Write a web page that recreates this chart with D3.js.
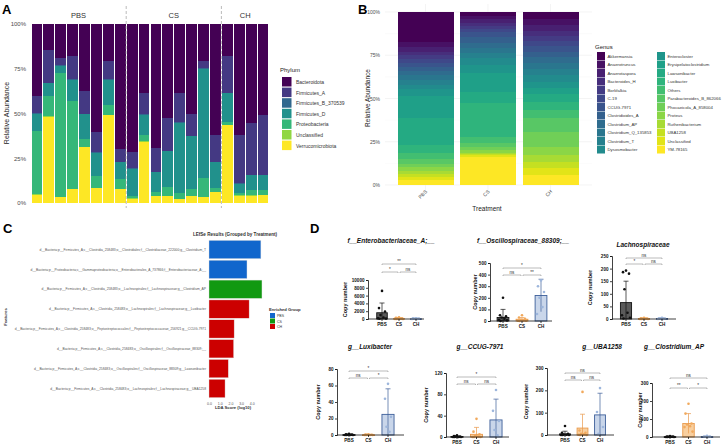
<!DOCTYPE html>
<html>
<head>
<meta charset="utf-8">
<script src="https://cdn.jsdelivr.net/npm/d3@7"></script>
<style>
body { margin: 0; background: #fff; }
text { font-family: "Liberation Sans", Arial, sans-serif; }
</style>
</head>
<body>
<div id="fig"></div>
<script>
// ---------- Panel A: phylum relative abundance per sample ----------
var samples = ["PBS1","PBS2","PBS3","PBS4","PBS5","PBS6","PBS7","PBS8",
               "CS1","CS2","CS3","CS4","CS5","CS6","CS7","CS8",
               "CH1","CH2","CH3","CH4"];
var phyla = ["Bacteroidota","Firmicutes_A","Firmicutes_B_370539","Firmicutes_D",
             "Proteobacteria","Unclassified","Verrucomicrobiota"];
var bacteroidota   = [40.2,14.4,18.7,17.8,37.2,60.4,20.6,70.1, 71.6,38.7,69.2,52.5,38.3,50.5,20.6,62.2, 17.8,62.1,55.5,51.0];
var firmicutesA    = [9.8,18.3,4.3,13.0,13.1,11.4,10.2,7.1, 9.1,11.8,13.4,18.5,16.7,11.9,4.1,14.8, 20.5,27.1,28.8,33.4];
var firmicutesB    = [0.3,0.2,0.1,0.3,0.2,0.2,0.3,0.2, 0.2,0.3,0.2,0.3,0.4,0.3,0.2,0.3, 0.3,0.2,0.3,0.2];
var firmicutesD    = [9.3,7.5,4.1,12.2,14.0,13.2,13.9,9.2, 15.2,11.2,11.4,19.7,39.4,29.4,61.1,14.6, 16.1,5.2,8.6,8.3];
var proteobacteria = [35.8,11.2,69.2,49.0,4.3,6.4,5.6,5.6, 1.5,3.7,1.9,5.2,3.4,4.1,10.8,2.0, 1.7,1.3,2.8,2.8];
var unclassifiedA  = [0.1,0.1,0.1,0.1,0.1,0.1,0.1,0.1, 0.1,0.1,0.1,0.1,0.1,0.1,0.1,0.1, 0.1,0.1,0.1,0.1];
var verrucomicrob  = [4.9,48.6,3.7,8.0,31.4,8.6,49.7,8.0, 2.6,34.6,4.1,4.1,2.2,4.1,3.4,6.4, 43.9,4.3,4.3,4.5];
var sampleGroups = ["PBS","CS","CH"];
var groupSizes = [8, 8, 4];

// ---------- Panel B: genus relative abundance per treatment ----------
var treatments = ["PBS","CS","CH"];
var genera = ["Akkermansia","Anaerotruncus","Anaerotaspora","Bacteroides_H","Borkfalkia","C-19",
              "CCUG-7971","Clostridioides_A","Clostridium_AP","Clostridium_Q_135853","Clostridium_T","Dysosmobacter",
              "Enterocloster","Erysipelatoclostridium","Lawsonibacter","Luxibacter","Others","Parabacteroides_B_862066",
              "Phocaeicola_A_858004","Proteus","Ruthenibacterium","UBA1258","Unclassified","YM-78165"];
var genusPBS = [17.3,2.5,2.9,1.9,2.5,2.3,1.9,2.3,2.5,2.9,2.9,2.3,4.0,12.9,15.4,4.8,2.9,2.9,1.9,2.3,1.9,1.9,1.5,3.1];
var genusCS  = [2.1,1.9,1.9,1.9,1.9,1.9,2.7,3.5,2.9,2.9,2.9,3.9,4.4,11.0,6.7,19.3,3.9,1.9,1.9,1.5,0.8,0.8,0.8,16.6];
var genusCH  = [4.0,3.3,3.3,3.1,2.7,2.9,3.5,3.3,3.5,3.5,3.3,3.9,3.3,3.9,4.4,4.8,4.8,7.7,8.7,4.8,3.9,3.9,3.9,6.0];

// ---------- Panel C: LEfSe ----------
var features = [
  "d__Bacteria;p__Firmicutes_A;c__Clostridia_258483;o__Clostridiales;f__Clostridiaceae_222000;g__Clostridium_T",
  "d__Bacteria;p__Proteobacteria;c__Gammaproteobacteria;o__Enterobacterales_A_737866;f__Enterobacteriaceae_A;__",
  "d__Bacteria;p__Firmicutes_A;c__Clostridia_258483;o__Lachnospirales;f__Lachnospiraceae;g__Clostridium_AP",
  "d__Bacteria;p__Firmicutes_A;c__Clostridia_258483;o__Lachnospirales;f__Lachnospiraceae;g__Luxibacter",
  "d__Bacteria;p__Firmicutes_A;c__Clostridia_258483;o__Peptostreptococcales;f__Peptostreptococcaceae_256921;g__CCUG-7971",
  "d__Bacteria;p__Firmicutes_A;c__Clostridia_258483;o__Oscillospirales;f__Oscillospiraceae_88309;__",
  "d__Bacteria;p__Firmicutes_A;c__Clostridia_258483;o__Oscillospirales;f__Oscillospiraceae_88309;g__Lawsonibacter",
  "d__Bacteria;p__Firmicutes_A;c__Clostridia_258483;o__Lachnospirales;f__Lachnospiraceae;g__UBA1258"
];
var ldaScores = [4.85, 3.55, 4.95, 3.75, 2.35, 2.3, 1.8, 1.5];
var ldaGroups = ["PBS","PBS","CS","CH","CH","CH","CH","CH"];
var ldaTicks = [0, 1, 2, 3, 4];

// ---------- Panel D: copy numbers ----------
var dGroups = ["PBS","CS","CH"];
var enteroMean = [1600, 150, 80];
var enteroSd   = [2500, 200, 100];
var enteroPBS  = [7200, 2800, 1900, 1000, 400, 200, 100, 50];
var enteroCS   = [450, 300, 200, 100, 50, 20, 10, 0];
var enteroCH   = [200, 150, 100, 50, 20, 10];
var enteroSig  = ["**", "*", "ns"];

var osciMean = [30, 15, 220];
var osciSd   = [70, 15, 140];
var osciPBS  = [200, 50, 40, 30, 20, 10, 5, 0];
var osciCS   = [50, 30, 20, 10, 5, 3, 2, 0];
var osciCH   = [350, 300, 250, 200, 120, 60];
var osciSig  = ["*", "ns", "**"];

var lachnoMean = [65, 2, 2];
var lachnoSd   = [85, 2, 2];
var lachnoPBS  = [192, 186, 180, 118, 25, 15, 5, 2];
var lachnoCS   = [5, 3, 2, 1, 1, 0, 0, 0];
var lachnoCH   = [5, 3, 2, 1, 0, 0];
var lachnoSig  = ["ns", "*", "ns"];

var luxiMean = [0.5, 0.3, 25];
var luxiSd   = [0.5, 0.3, 31];
var luxiPBS  = [1.5, 1, 0.5, 0.3, 0.2, 0, 0, 0];
var luxiCS   = [1, 0.5, 0.3, 0.2, 0, 0, 0, 0];
var luxiCH   = [62, 44, 22, 10, 4];
var luxiSig  = ["*", "ns", "*"];

var ccugMean = [1, 5, 32];
var ccugSd   = [1, 13, 39];
var ccugPBS  = [3, 2, 1, 1, 0, 0, 0, 0];
var ccugCS   = [34, 10, 5, 2, 1, 0, 0, 0];
var ccugCH   = [88, 49, 30, 13, 3];
var ccugSig  = ["*", "ns", "ns"];

var ubaMean = [5, 31, 90];
var ubaSd   = [12, 62, 97];
var ubaPBS  = [40, 10, 5, 2, 1, 0, 0, 0];
var ubaCS   = [193, 20, 10, 5, 3, 1, 0, 0];
var ubaCH   = [210, 103, 36, 5];
var ubaSig  = ["ns", "ns", "ns"];

var clostMean = [2, 75, 2];
var clostSd   = [2, 55, 2];
var clostPBS  = [5, 3, 2, 1, 1, 0, 0, 0];
var clostCS   = [185, 130, 75, 70, 60, 55, 30];
var clostCH   = [6, 3, 2, 1, 0];
var clostSig  = ["ns", "**", "*"];

// ================= drawing =================
var W = 723, H = 446;
var svg = d3.select("#fig").append("svg")
    .attr("width", W).attr("height", H)
    .style("background", "#fff");

function panelLabel(t, x, y) {
  svg.append("text").attr("x", x).attr("y", y)
     .attr("font-size", "13px").attr("font-weight", "bold").text(t);
}

/* ---------- Panel A ---------- */
panelLabel("A", 2, 14);
var phylumValues = {
  "Bacteroidota": bacteroidota, "Firmicutes_A": firmicutesA, "Firmicutes_B_370539": firmicutesB,
  "Firmicutes_D": firmicutesD, "Proteobacteria": proteobacteria, "Unclassified": unclassifiedA,
  "Verrucomicrobiota": verrucomicrob
};
var phylumColor = d3.scaleOrdinal().domain(phyla)
    .range(phyla.map(function(d, i) { return d3.interpolateViridis(i / (phyla.length - 1)); }));

var rowsA = samples.map(function(s, i) {
  var r = { sample: s };
  phyla.forEach(function(p) { r[p] = phylumValues[p][i]; });
  return r;
});
var stackA = d3.stack().keys(phyla.slice().reverse()).offset(d3.stackOffsetExpand)(rowsA);

var xA = d3.scaleBand().domain(samples).range([31, 269]).paddingInner(0.1).paddingOuter(0.05);
var yA = d3.scaleLinear().domain([0, 1]).range([203, 24]);

var gA = svg.append("g");
gA.selectAll("g.layer").data(stackA).enter().append("g")
  .attr("fill", function(d) { return phylumColor(d.key); })
  .selectAll("rect").data(function(d) { return d; }).enter().append("rect")
  .attr("x", function(d) { return xA(d.data.sample); })
  .attr("y", function(d) { return yA(d[1]); })
  .attr("width", xA.bandwidth())
  .attr("height", function(d) { return yA(d[0]) - yA(d[1]) + 0.3; })
  .attr("shape-rendering", "crispEdges");

var yAxisA = gA.append("g").attr("transform", "translate(29,0)")
  .call(d3.axisLeft(yA).tickValues([0, .25, .5, .75, 1]).tickFormat(d3.format(".0%")).tickSize(0));
yAxisA.select(".domain").remove();
yAxisA.selectAll("text").attr("font-size", "6px").attr("fill", "#4d4d4d")
  .style("font-family", "'Liberation Sans', Arial, sans-serif");

gA.append("text").attr("transform", "rotate(-90)").attr("x", -113).attr("y", 9)
  .attr("text-anchor", "middle").attr("font-size", "7px").attr("fill", "#222").text("Relative Abundance");

// group strips and dashed separators
var startIdx = 0;
sampleGroups.forEach(function(g, gi) {
  var first = samples[startIdx], last = samples[startIdx + groupSizes[gi] - 1];
  var x0 = xA(first), x1 = xA(last) + xA.bandwidth();
  gA.append("text").attr("x", (x0 + x1) / 2).attr("y", 18).attr("text-anchor", "middle")
    .attr("font-size", "7.5px").attr("fill", "#333").text(g);
  if (gi > 0) {
    gA.append("line").attr("x1", x0 - xA.step() * 0.05).attr("x2", x0 - xA.step() * 0.05)
      .attr("y1", 6).attr("y2", 208).attr("stroke", "#aaa").attr("stroke-width", 0.8)
      .attr("stroke-dasharray", "3,2");
  }
  startIdx += groupSizes[gi];
});

// legend A
var legA = svg.append("g").attr("transform", "translate(282,72)");
legA.append("text").attr("x", -2).attr("y", 0).attr("font-size", "6px").attr("fill", "#222").text("Phylum");
phyla.forEach(function(p, i) {
  legA.append("rect").attr("x", 0).attr("y", 5 + i * 10.6).attr("width", 9.5).attr("height", 9.5)
    .attr("fill", phylumColor(p));
  legA.append("text").attr("x", 14).attr("y", 12 + i * 10.6).attr("font-size", "5px")
    .attr("fill", "#333").text(p);
});

/* ---------- Panel B ---------- */
panelLabel("B", 358, 14);
var genusValues = { "PBS": genusPBS, "CS": genusCS, "CH": genusCH };
var genusColor = d3.scaleOrdinal().domain(genera)
    .range(genera.map(function(d, i) { return d3.interpolateViridis(i / (genera.length - 1)); }));
var rowsB = treatments.map(function(t) {
  var r = { treatment: t };
  genera.forEach(function(g, i) { r[g] = genusValues[t][i]; });
  return r;
});
var stackB = d3.stack().keys(genera.slice().reverse()).offset(d3.stackOffsetExpand)(rowsB);

var xB = d3.scaleBand().domain(treatments).range([391, 585]).paddingInner(0.104).paddingOuter(0.104);
var yB = d3.scaleLinear().domain([0, 1]).range([185, 12]);
var gB = svg.append("g");

// grid
[0, .25, .5, .75, 1].forEach(function(v) {
  gB.append("line").attr("x1", 385).attr("x2", 592).attr("y1", yB(v)).attr("y2", yB(v))
    .attr("stroke", "#ececec").attr("stroke-width", 0.6);
});
[.125, .375, .625, .875].forEach(function(v) {
  gB.append("line").attr("x1", 385).attr("x2", 592).attr("y1", yB(v)).attr("y2", yB(v))
    .attr("stroke", "#f5f5f5").attr("stroke-width", 0.4);
});
treatments.forEach(function(t) {
  var cx = xB(t) + xB.bandwidth() / 2;
  gB.append("line").attr("x1", cx).attr("x2", cx).attr("y1", 4).attr("y2", 192)
    .attr("stroke", "#ececec").attr("stroke-width", 0.6);
});

gB.selectAll("g.layer").data(stackB).enter().append("g")
  .attr("fill", function(d) { return genusColor(d.key); })
  .selectAll("rect").data(function(d) { return d; }).enter().append("rect")
  .attr("x", function(d) { return xB(d.data.treatment); })
  .attr("y", function(d) { return yB(d[1]); })
  .attr("width", xB.bandwidth())
  .attr("height", function(d) { return yB(d[0]) - yB(d[1]) + 0.4; })
  .attr("shape-rendering", "crispEdges");

var yAxisB = gB.append("g").attr("transform", "translate(383,0)")
  .call(d3.axisLeft(yB).tickValues([0, .25, .5, .75, 1]).tickFormat(d3.format(".0%")).tickSize(0));
yAxisB.select(".domain").remove();
yAxisB.selectAll("text").attr("font-size", "5px").attr("fill", "#4d4d4d")
  .style("font-family", "'Liberation Sans', Arial, sans-serif");

treatments.forEach(function(t) {
  var cx = xB(t) + xB.bandwidth() / 2;
  gB.append("text").attr("transform", "translate(" + (cx + 2) + ",192) rotate(-45)")
    .attr("text-anchor", "end").attr("font-size", "5px").attr("fill", "#4d4d4d").text(t);
});
gB.append("text").attr("x", 487).attr("y", 211).attr("text-anchor", "middle")
  .attr("font-size", "6.5px").attr("fill", "#222").text("Treatment");
gB.append("text").attr("transform", "rotate(-90)").attr("x", -98).attr("y", 370)
  .attr("text-anchor", "middle").attr("font-size", "6.5px").attr("fill", "#222").text("Relative Abundance");

// legend B
var legB = svg.append("g");
legB.append("text").attr("x", 595).attr("y", 49).attr("font-size", "6px").attr("fill", "#222").text("Genus");
genera.forEach(function(g, i) {
  var col = Math.floor(i / 12), row = i % 12;
  var lx = col === 0 ? 597 : 657;
  var ly = 52 + row * 8.5;
  legB.append("rect").attr("x", lx).attr("y", ly).attr("width", 8).attr("height", 8)
    .attr("fill", genusColor(g));
  legB.append("text").attr("x", lx + 10.5).attr("y", ly + 5.8).attr("font-size", "4.3px")
    .attr("fill", "#333").text(g);
});

/* ---------- Panel C ---------- */
panelLabel("C", 3, 233);
var groupColor = d3.scaleOrdinal().domain(["PBS", "CS", "CH"]).range(["#1166cc", "#119911", "#cc0000"]);
var xC = d3.scaleLinear().domain([0, 5]).range([209, 262.5]);
var yC = d3.scaleBand().domain(features).range([240, 398]).paddingInner(0.08).paddingOuter(0.02);
var gC = svg.append("g");
gC.append("text").attr("x", 235).attr("y", 236).attr("text-anchor", "middle")
  .attr("font-size", "4.6px").attr("font-weight", "bold").attr("fill", "#333")
  .text("LEfSe Results (Grouped by Treatment)");
gC.selectAll("rect.lda").data(features).enter().append("rect")
  .attr("x", xC(0)).attr("y", function(d) { return yC(d); })
  .attr("width", function(d, i) { return xC(ldaScores[i]) - xC(0); })
  .attr("height", yC.bandwidth())
  .attr("fill", function(d, i) { return groupColor(ldaGroups[i]); })
  .attr("stroke", "#ddd").attr("stroke-width", 0.4);
gC.selectAll("text.feat").data(features).enter().append("text")
  .attr("x", 206).attr("y", function(d) { return yC(d) + yC.bandwidth() / 2 + 1.2; })
  .attr("text-anchor", "end").attr("font-size", "3.3px").attr("fill", "#555")
  .text(function(d) { return d; });
var xAxisC = gC.append("g").attr("transform", "translate(0,400)")
  .call(d3.axisBottom(xC).tickValues(ldaTicks).tickSize(0).tickFormat(d3.format(".1f")));
xAxisC.select(".domain").remove();
xAxisC.selectAll("text").attr("font-size", "3.5px").attr("fill", "#555")
  .style("font-family", "'Liberation Sans', Arial, sans-serif");
gC.append("text").attr("x", 233).attr("y", 409).attr("text-anchor", "middle")
  .attr("font-size", "4.2px").attr("font-weight", "bold").attr("fill", "#333").text("LDA Score (log10)");
gC.append("text").attr("transform", "rotate(-90)").attr("x", -317).attr("y", 7)
  .attr("text-anchor", "middle").attr("font-size", "4.2px").attr("font-weight", "bold").attr("fill", "#333")
  .text("Features");
gC.append("text").attr("x", 269).attr("y", 311).attr("font-size", "4.2px").attr("font-weight", "bold")
  .attr("fill", "#333").text("Enriched Group");
["PBS", "CS", "CH"].forEach(function(g, i) {
  gC.append("rect").attr("x", 270).attr("y", 313 + i * 5.5).attr("width", 5).attr("height", 5)
    .attr("fill", groupColor(g));
  gC.append("text").attr("x", 277).attr("y", 317 + i * 5.5).attr("font-size", "3.5px")
    .attr("fill", "#333").text(g);
});

/* ---------- Panel D ---------- */
panelLabel("D", 310, 233);
var fills = { PBS: "#5a5a5a", CS: "#f8cf9f", CH: "#c9d6ea" };
var edges = { PBS: "#111", CS: "#e99a4c", CH: "#3d5f9a" };
var dots  = { PBS: "#111", CS: "#f1a95c", CH: "#9db6dc" };

var dPlots = [
  { title: "f__Enterobacteriaceae_A;__", tx: 391, ty: 243, ax: 368, c0: 382, step: 17, end: 424,
    base: 319, top: 280, max: 10000, tickStep: 2000, mean: enteroMean, sd: enteroSd,
    pts: [enteroPBS, enteroCS, enteroCH], sig: enteroSig, br: [264, 272], lx: 347 },
  { title: "f__Oscillospiraceae_88309;__", tx: 523, ty: 243, ax: 490, c0: 503, step: 19, end: 552,
    base: 321, top: 263, max: 500, tickStep: 100, mean: osciMean, sd: osciSd,
    pts: [osciPBS, osciCS, osciCH], sig: osciSig, br: [268, 275], lx: 477 },
  { title: "Lachnospiraceae", tx: 643, ty: 247, ax: 612, c0: 626, step: 18, end: 676,
    base: 319, top: 256, max: 250, tickStep: 50, mean: lachnoMean, sd: lachnoSd,
    pts: [lachnoPBS, lachnoCS, lachnoCH], sig: lachnoSig, br: [258, 264], lx: 592 },
  { title: "g__Luxibacter", tx: 370, ty: 349, ax: 337, c0: 349, step: 19.5, end: 404,
    base: 435, top: 369, max: 80, tickStep: 20, mean: luxiMean, sd: luxiSd,
    pts: [luxiPBS, luxiCS, luxiCH], sig: luxiSig, br: [371, 378], lx: 320 },
  { title: "g__CCUG-7971", tx: 480, ty: 349, ax: 446, c0: 457, step: 19.5, end: 509,
    base: 437, top: 373, max: 120, tickStep: 40, mean: ccugMean, sd: ccugSd,
    pts: [ccugPBS, ccugCS, ccugCH], sig: ccugSig, br: [377, 384], lx: 428 },
  { title: "g__UBA1258", tx: 602, ty: 349, ax: 547, c0: 565, step: 17.5, end: 614,
    base: 435, top: 368, max: 300, tickStep: 100, mean: ubaMean, sd: ubaSd,
    pts: [ubaPBS, ubaCS, ubaCH], sig: ubaSig, br: [373, 380], lx: 528 },
  { title: "g__Clostridium_AP", tx: 674, ty: 349, ax: 652, c0: 670, step: 18.5, end: 720,
    base: 437, top: 383, max: 300, tickStep: 100, mean: clostMean, sd: clostSd,
    pts: [clostPBS, clostCS, clostCH], sig: clostSig, br: [378, 388], lx: 642 }
];

// fixed horizontal spread for the scatter dots (layout only)
var spread = [0, -3, 3, -1.5, 1.5, -4, 4, -2.5];

dPlots.forEach(function(p) {
  var g = svg.append("g");
  var y = d3.scaleLinear().domain([0, p.max]).range([p.base, p.top]);
  var x = d3.scalePoint().domain(dGroups).range([p.c0, p.c0 + 2 * p.step]);
  var bw = p.step * 0.62;

  g.append("text").attr("x", p.tx).attr("y", p.ty).attr("text-anchor", "middle")
    .attr("font-size", "6.5px").attr("font-weight", "bold").attr("font-style", "italic")
    .attr("fill", "#111").text(p.title);

  // bars
  dGroups.forEach(function(grp, i) {
    var m = p.mean[i], s = p.sd[i];
    var top = y(m);
    g.append("rect").attr("x", x(grp) - bw / 2).attr("y", top)
      .attr("width", bw).attr("height", Math.max(0.8, p.base - top))
      .attr("fill", fills[grp]).attr("stroke", edges[grp]).attr("stroke-width", 0.9);
    // error bar
    var lo = y(Math.max(0, m - s)), hi = y(m + s);
    g.append("line").attr("x1", x(grp)).attr("x2", x(grp)).attr("y1", lo).attr("y2", hi)
      .attr("stroke", edges[grp]).attr("stroke-width", 0.7);
    g.append("line").attr("x1", x(grp) - 2.5).attr("x2", x(grp) + 2.5).attr("y1", hi).attr("y2", hi)
      .attr("stroke", edges[grp]).attr("stroke-width", 0.7);
    // points
    p.pts[i].forEach(function(v, k) {
      g.append("circle").attr("cx", x(grp) + spread[k % spread.length]).attr("cy", y(v))
        .attr("r", 1.3).attr("fill", dots[grp]);
    });
  });

  // axes
  var ticks = d3.range(0, p.max + 0.001, p.tickStep);
  var yAx = g.append("g").attr("transform", "translate(" + p.ax + ",0)")
    .call(d3.axisLeft(y).tickValues(ticks).tickSize(2).tickPadding(1.5).tickFormat(d3.format("d")));
  yAx.select(".domain").attr("stroke", "#111").attr("stroke-width", 0.8);
  yAx.selectAll(".tick line").attr("stroke", "#111").attr("stroke-width", 0.8);
  yAx.selectAll("text").attr("font-size", "4.6px").attr("font-weight", "bold").attr("fill", "#111")
    .style("font-family", "'Liberation Sans', Arial, sans-serif");
  g.append("line").attr("x1", p.ax).attr("x2", p.end).attr("y1", p.base).attr("y2", p.base)
    .attr("stroke", "#111").attr("stroke-width", 0.8);
  dGroups.forEach(function(grp) {
    g.append("line").attr("x1", x(grp)).attr("x2", x(grp)).attr("y1", p.base).attr("y2", p.base + 2)
      .attr("stroke", "#111").attr("stroke-width", 0.8);
    g.append("text").attr("x", x(grp)).attr("y", p.base + 7).attr("text-anchor", "middle")
      .attr("font-size", "4.6px").attr("font-weight", "bold").attr("fill", "#111").text(grp);
  });
  g.append("text").attr("transform", "rotate(-90)").attr("x", -(p.base + p.top) / 2).attr("y", p.lx)
    .attr("text-anchor", "middle").attr("font-size", "5.5px").attr("font-weight", "bold")
    .attr("fill", "#111").text("Copy number");

  // significance brackets
  function bracket(a, b, yy, label) {
    g.append("path").attr("d", "M" + a + "," + (yy + 1) + "V" + yy + "H" + b + "V" + (yy + 1))
      .attr("fill", "none").attr("stroke", "#777").attr("stroke-width", 0.5);
    g.append("text").attr("x", (a + b) / 2).attr("y", yy - 1.5).attr("text-anchor", "middle")
      .attr("font-size", "4.6px").attr("fill", "#333").text(label);
  }
  bracket(x("PBS"), x("CH"), p.br[0], p.sig[0]);
  bracket(x("PBS"), x("CS") - 1, p.br[1], p.sig[1]);
  bracket(x("CS") + 1, x("CH"), p.br[1], p.sig[2]);
});
</script>
</body>
</html>
